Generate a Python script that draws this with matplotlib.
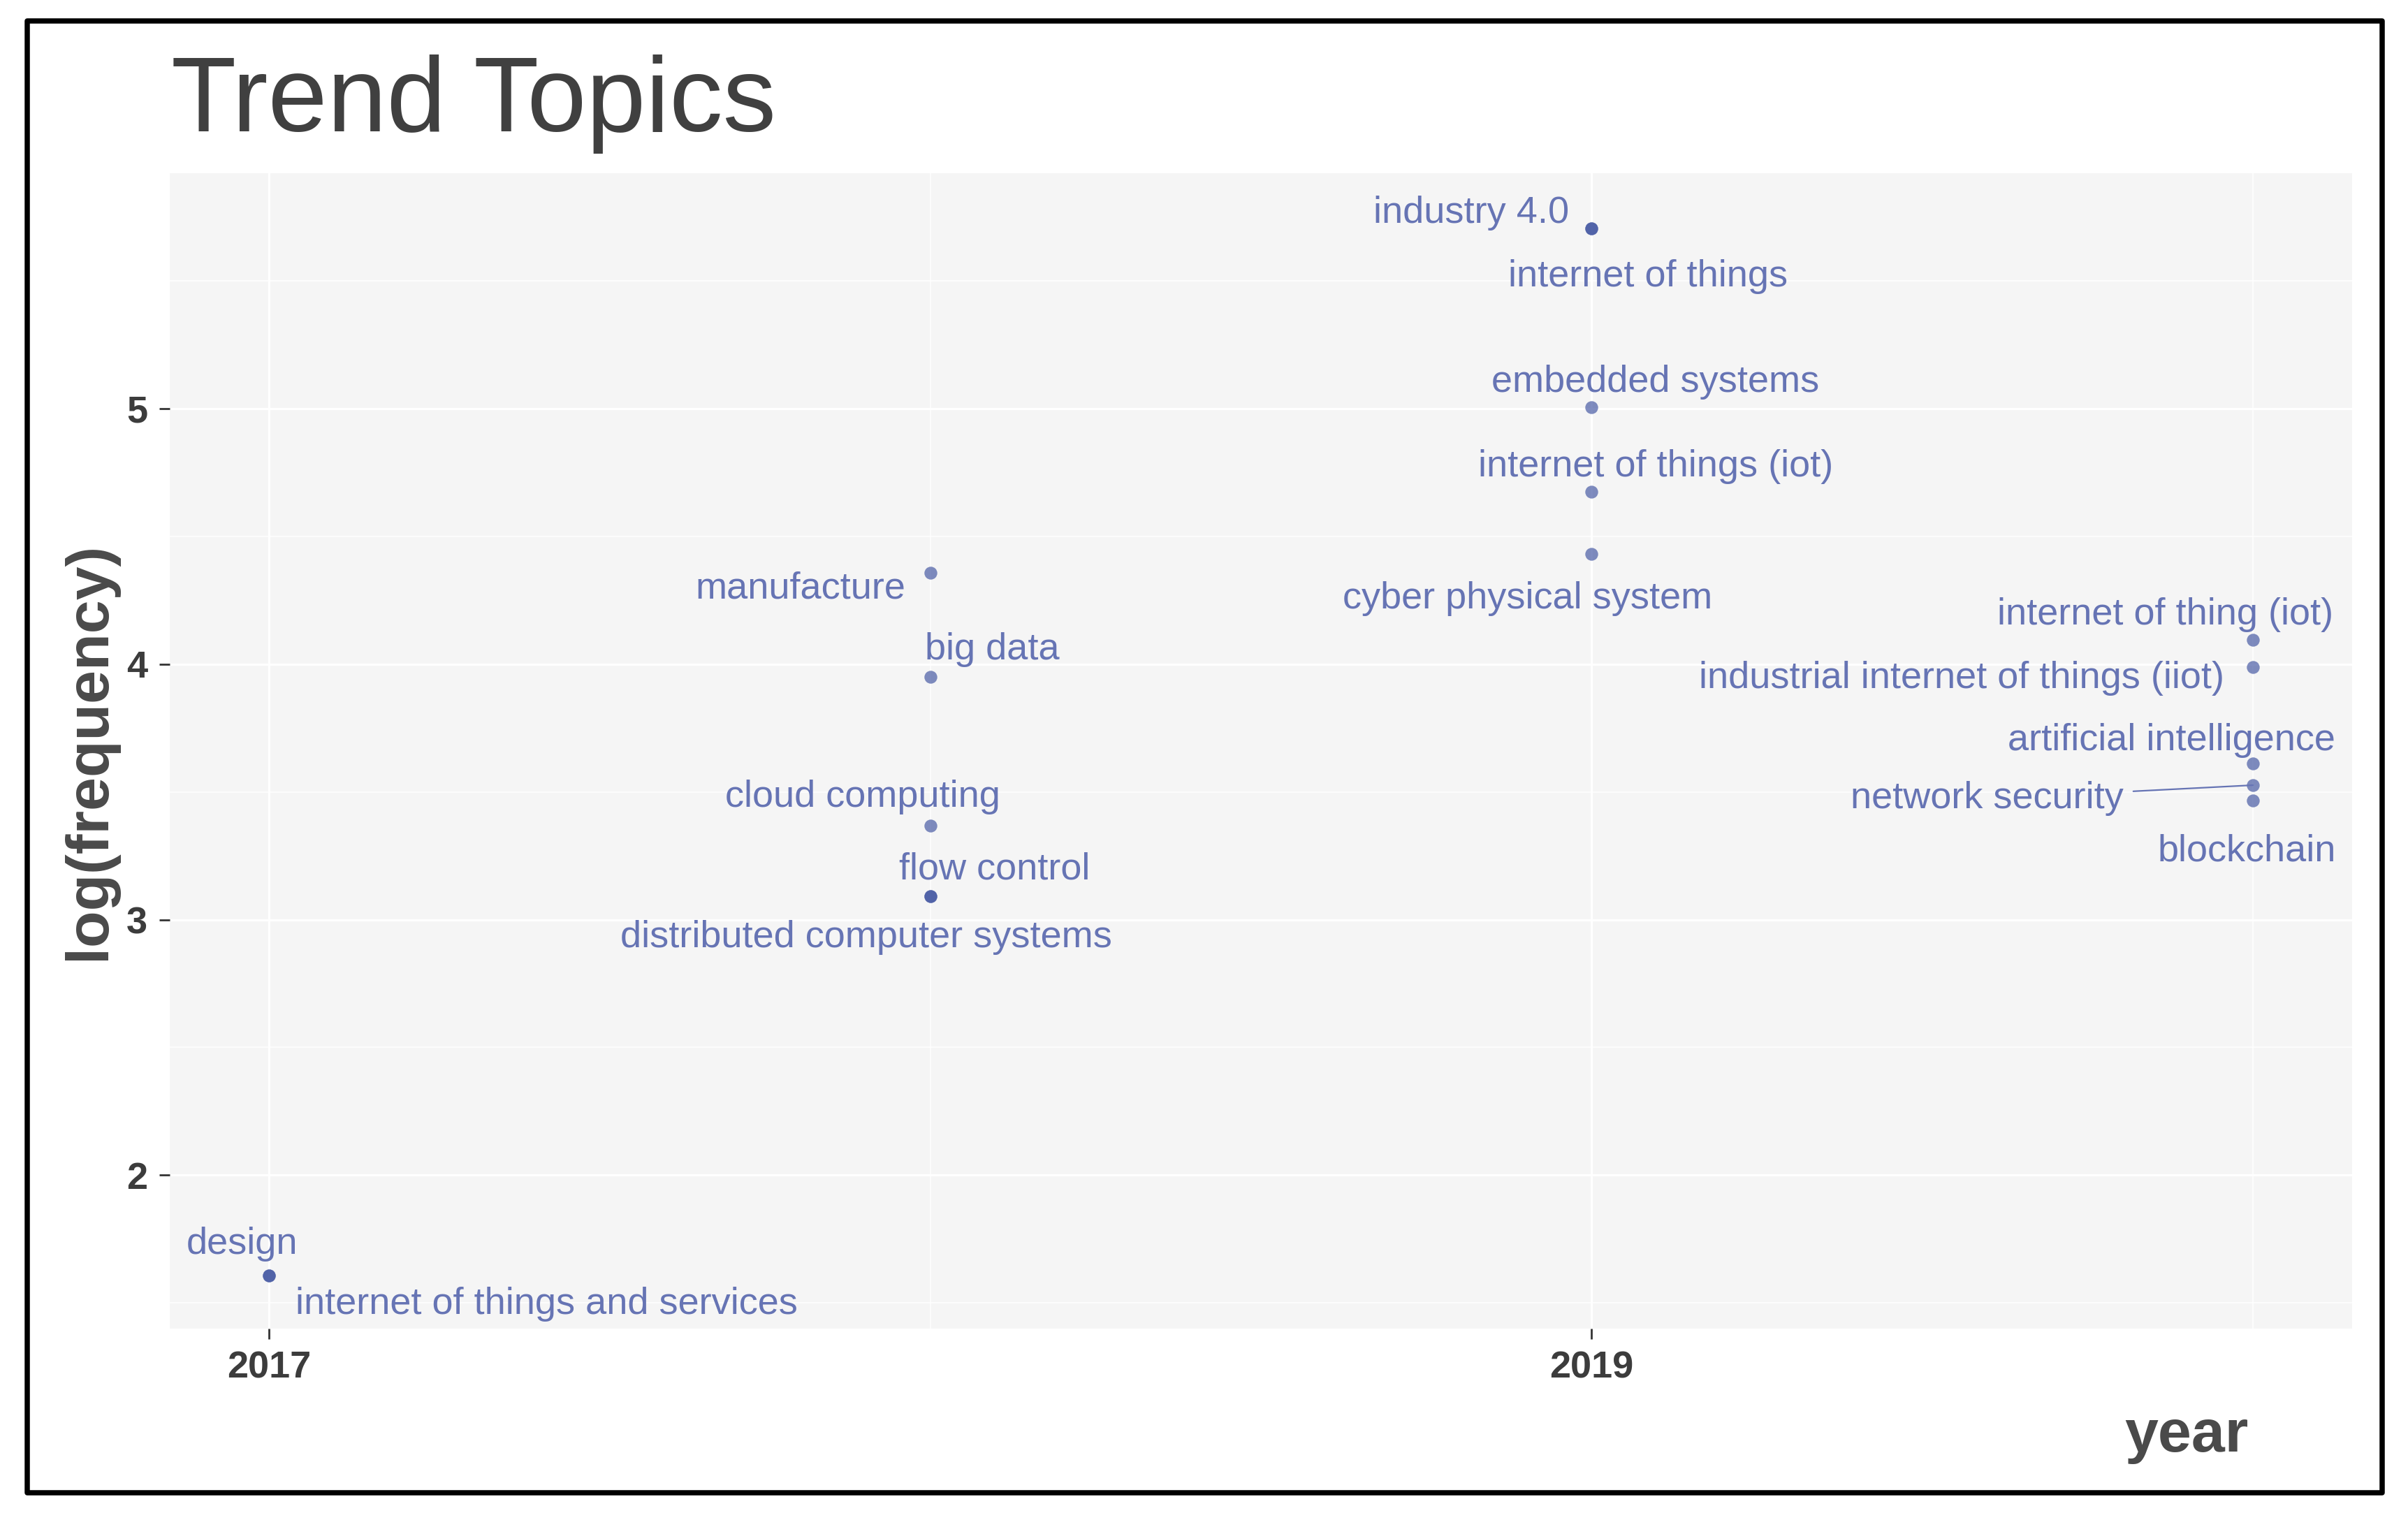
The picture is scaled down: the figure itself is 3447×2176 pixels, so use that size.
import matplotlib.pyplot as plt
import numpy as np
from matplotlib import rcParams
from matplotlib.patches import Rectangle
from matplotlib.ticker import FixedLocator

rcParams["font.family"] = ["Liberation Sans", "DejaVu Sans"]

POINT_COLOR = "#3B4F9E"
LABEL_COLOR = "#6674B4"
PANEL_BG = "#F5F5F5"
DARK_TEXT = "#3C3C3C"

# data: term, year, log(frequency)
terms = [
    "design", "internet of things and services",
    "manufacture", "big data", "cloud computing", "flow control",
    "distributed computer systems",
    "industry 4.0", "internet of things", "embedded systems",
    "internet of things (iot)", "cyber physical system",
    "internet of thing (iot)", "industrial internet of things (iiot)",
    "artificial intelligence", "network security", "blockchain",
]
years = [
    2017, 2017,
    2018, 2018, 2018, 2018, 2018,
    2019, 2019, 2019, 2019, 2019,
    2020, 2020, 2020, 2020, 2020,
]
log_freq = [
    1.609, 1.609,
    4.357, 3.951, 3.367, 3.091, 3.091,
    5.704, 5.704, 5.004, 4.673, 4.431,
    4.094, 3.989, 3.611, 3.526, 3.466,
]

x_breaks = [2017, 2019]
x_minor = [2018, 2020]
y_breaks = [2, 3, 4, 5]
y_minor = [1.5, 2.5, 3.5, 4.5, 5.5]

# label placement (repel-like), offsets in points from each point (dx, dy up)
label_offsets = [
    (-14, 16), (143, -15),
    (-67, -8), (32, 14), (-35, 15), (33, 14), (-33, -21),
    (-62, 8), (29, -25), (33, 13), (33, 13), (-33, -23),
    (-45, 13), (-150, -6), (-42, 12), (-137, -7), (-3, -26),
]
segment_terms = ["network security"]


def make_trend_topics():
    fig = plt.figure(figsize=(17.24, 10.88), dpi=200)
    ax = fig.add_axes([0.07048, 0.12592, 0.90603, 0.76011])
    ax.set_facecolor(PANEL_BG)

    x = np.array(years, dtype=float)
    y = np.array(log_freq)

    ax.scatter(x, y, s=44, color=POINT_COLOR, alpha=0.65, linewidths=0, zorder=3)

    for term, xi, yi, (dx, dy) in zip(terms, x, y, label_offsets):
        if term in segment_terms:
            ax.annotate(
                term, (xi, yi), xytext=(dx, dy), textcoords="offset points",
                ha="center", va="center", fontsize=19.5, color=LABEL_COLOR,
                arrowprops=dict(arrowstyle="-", color=LABEL_COLOR, lw=0.8,
                                shrinkA=3, shrinkB=0),
                zorder=4,
            )
        else:
            ax.annotate(
                term, (xi, yi), xytext=(dx, dy), textcoords="offset points",
                ha="center", va="center", fontsize=19.5, color=LABEL_COLOR,
                zorder=4,
            )

    ax.set_xlim(2016.85, 2020.15)
    ax.set_ylim(1.40, 5.92)
    ax.set_xticks(x_breaks)
    ax.set_xticklabels([str(v) for v in x_breaks])
    ax.set_yticks(y_breaks)
    ax.xaxis.set_minor_locator(FixedLocator(x_minor))
    ax.yaxis.set_minor_locator(FixedLocator(y_minor))

    ax.grid(which="major", color="white", linewidth=1.1, zorder=0)
    ax.grid(which="minor", color="white", linewidth=0.55, zorder=0)
    ax.set_axisbelow(True)

    ax.tick_params(which="major", direction="out", length=5.4, width=1.0,
                   color="#333333", pad=6, labelsize=19.5, labelcolor=DARK_TEXT)
    ax.tick_params(which="minor", length=0)
    for lab in ax.get_xticklabels() + ax.get_yticklabels():
        lab.set_fontweight("bold")

    for sp in ax.spines.values():
        sp.set_visible(False)

    fig.text(0.0711, 0.9136, "Trend Topics", fontsize=55, color="#404040",
             ha="left", va="baseline")
    fig.text(0.0372, 0.506, "log(frequency)", fontsize=31, fontweight="bold",
             color="#4A4A4A", rotation=90, ha="center", va="center")
    fig.text(0.9335, 0.045, "year", fontsize=31, fontweight="bold",
             color="#4A4A4A", ha="right", va="baseline")

    frame = Rectangle((0.01131, 0.01815), 0.97767, 0.96829,
                      transform=fig.transFigure, fill=False,
                      edgecolor="black", linewidth=2.7, joinstyle="round")
    fig.patches.append(frame)

    return fig


if __name__ == "__main__":
    fig = make_trend_topics()
    fig.savefig("out.png", dpi=200, facecolor="white")
